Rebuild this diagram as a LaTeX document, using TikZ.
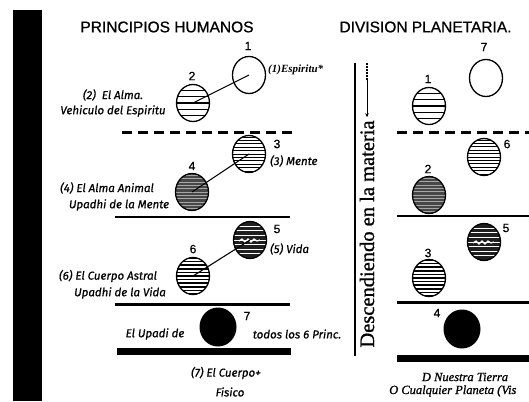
\documentclass[tikz,border=0pt]{standalone}
\usepackage{fontspec}
\setmainfont{Liberation Serif}
\newfontfamily\hsans[FakeBold=0.8]{Liberation Sans}
\newfontfamily\isans[FakeBold=0.7]{Fira Sans}
\newfontfamily\vserif[FakeBold=1]{Liberation Serif}
\usetikzlibrary{shapes.geometric,arrows.meta}
\begin{document}
\begin{tikzpicture}[x=1pt,y=-1pt,
  title/.style={font=\hsans\fontsize{15.5}{17}\selectfont, inner sep=0pt},
  num/.style={font=\hsans\fontsize{12}{13}\selectfont, inner sep=0pt},
  lab/.style={font=\isans\itshape\fontsize{11.5}{12}\selectfont, inner sep=0pt},
  serlab/.style={font=\vserif\itshape\fontsize{12.5}{13}\selectfont, inner sep=0pt},
  orb/.style={ellipse, draw, line width=1.3pt, minimum width=33pt, minimum height=37pt, inner sep=0pt},
  stripes/.style n args={3}{path picture={
    \foreach \k in {-12,...,12}{
      \draw[line width=#2,#3] ([yshift=\k*#1]path picture bounding box.center) ++(-25pt,0pt) -- ++(50pt,0pt);}}},
  coarse/.style={orb, stripes={6.3pt}{1.5pt}{black}},
  fine/.style={orb, stripes={3.4pt}{0.9pt}{black}},
  medium/.style={orb, stripes={3.6pt}{1.5pt}{black}},
  darkorb/.style={orb, fill=black!72, stripes={3.3pt}{0.7pt}{white!65!black}},
  lifeorb/.style={orb, fill=black!88, stripes={4.6pt}{0.7pt}{white}},
  blackorb/.style={ellipse, fill=black, minimum width=37pt, minimum height=39pt, inner sep=0pt},
  sepline/.style={line width=2pt},
  septhick/.style={line width=3pt},
  barline/.style={line width=7pt},
  dashline/.style={line width=3pt, dash pattern=on 10pt off 6pt},
  conn/.style={line width=1.1pt}
]
\useasboundingbox (0,0) rectangle (529,401);
% left black bar
\fill (13,10) rectangle (42,401);

% titles
\node[title] (t1) at (167,27) {PRINCIPIOS HUMANOS};
\node[title] (t2) at (425.5,27) {DIVISION PLANETARIA.};

% ---------- left column ----------
\node[orb] (L1) at (249,75) {};
\node[num] (n1) at (248,46) {1};
\node[coarse] (L2) at (193,103) {};
\node[num] (n2) at (192,76) {2};
\node[font=\bfseries\itshape\fontsize{11}{12}\selectfont, inner sep=0pt, anchor=west] (e1) at (268,70) {(1)Espiritu*};
\node[lab] (e2a) at (113,95) {(2)\ \ El Alma.};
\node[lab] (e2b) at (113,111) {Vehiculo del Espiritu};
\draw[conn] (L2.center) -- (L1.center);

\draw[dashline] (122,132) -- (292,132);

\node[fine] (L3) at (249,154) {};
\node[num] (n3) at (277,144) {3};
\node[lab, anchor=west] (e3) at (270,161) {(3) Mente};
\node[darkorb] (L4) at (192,192) {};
\node[num] (n4) at (192,166) {4};
\node[lab] (e4a) at (107,188) {(4) El Alma Animal};
\node[lab] (e4b) at (119,205) {Upadhi de la Mente};
\draw[conn] (L4.center) -- (L3.center);

\draw[sepline] (115,217) -- (290,217);

\node[lifeorb] (L5) at (250,240) {};
\draw[white, line width=1.2pt] ([shift={(-11pt,-1pt)}]L5.center) -- ++(3pt,2pt) -- ++(3pt,-3pt) -- ++(3pt,3pt) -- ++(3pt,-3pt) -- ++(3pt,3pt) -- ++(3pt,-2pt) -- ++(3pt,1pt);
\node[num] (n5) at (277,229) {5};
\node[lab, anchor=west] (e5) at (270,249) {(5) Vida};
\node[medium] (L6) at (193,276) {};
\node[num] (n6) at (193,249) {6};
\node[lab] (e6a) at (108,276) {(6) El Cuerpo Astral};
\node[lab] (e6b) at (120,293) {Upadhi de la Vida};
\draw[conn] (L6.center) -- (L5.center);

\draw[septhick] (115,304) -- (290,304);

\node[blackorb] (L7) at (218,327) {};
\node[num] (n7) at (247,316) {7};
\node[lab] (e7a) at (155,334) {El Upadi de};
\node[lab] (e7b) at (297,334) {todos los 6 Princ.};

\draw[barline] (117,351) -- (291,351);

\node[lab] (e8a) at (226,373) {(7) El Cuerpo+};
\node[lab] (e8b) at (230,392) {Fisico};

% ---------- middle ----------
\draw[line width=1.2pt] (355,63) -- (355,356);
\node[rotate=90, font=\vserif\fontsize{20.5}{22}\selectfont, inner sep=0pt] (vt) at (367,234) {Descendiendo en la materia};
\coordinate (arrtop) at (367,63);
\draw[line width=2.2pt, dash pattern=on 2pt off 1pt] (arrtop) -- ++(0,18);
\draw[line width=0.8pt, -{Stealth[length=4pt,width=3.5pt]}] ([yshift=-16pt]arrtop) -- ([yshift=3pt]vt.east);

% ---------- right column ----------
\node[orb] (R7) at (486,78) {};
\node[num] (m7) at (484,47) {7};
\node[coarse] (R1) at (429,106) {};
\node[num] (m1) at (428,79) {1};

\draw[dashline] (397,132) -- (529,132);

\node[fine] (R6) at (484,157) {};
\node[num] (m6) at (507,144) {6};
\node[darkorb] (R2) at (429,195) {};
\node[num] (m2) at (428,169) {2};

\draw[sepline] (397,216) -- (529,216);

\node[lifeorb] (R5) at (484,242) {};
\draw[white, line width=1.2pt] ([shift={(-11pt,-1pt)}]R5.center) -- ++(3pt,2pt) -- ++(3pt,-3pt) -- ++(3pt,3pt) -- ++(3pt,-3pt) -- ++(3pt,3pt) -- ++(3pt,-2pt) -- ++(3pt,1pt);
\node[num] (m5) at (506,228) {5};
\node[medium] (R3) at (429,278) {};
\node[num] (m3) at (428,253) {3};

\draw[septhick] (397,302) -- (529,302);

\node[blackorb] (R4) at (462,329) {};
\node[num] (m4) at (437,313) {4};

\draw[barline] (397,358) -- (529,358);

\node[serlab] (d1) at (465,377) {D Nuestra Tierra};
\node[serlab, anchor=west] (d2) at (389,391) {O Cualquier Planeta (Vis};
\end{tikzpicture}
\end{document}
